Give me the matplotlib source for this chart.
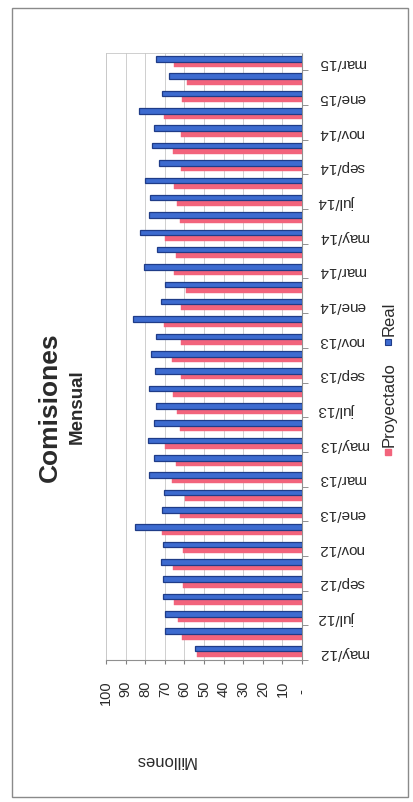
import numpy as np
import matplotlib
matplotlib.use('Agg')
import matplotlib.pyplot as plt
from matplotlib.patches import Rectangle

plt.rcParams['font.family'] = ['Liberation Sans', 'DejaVu Sans']

# ============ datos (millones) ============
meses = ['may/12', 'jun/12', 'jul/12', 'ago/12', 'sep/12', 'oct/12', 'nov/12', 'dic/12',
         'ene/13', 'feb/13', 'mar/13', 'abr/13', 'may/13', 'jun/13', 'jul/13', 'ago/13',
         'sep/13', 'oct/13', 'nov/13', 'dic/13', 'ene/14', 'feb/14', 'mar/14', 'abr/14',
         'may/14', 'jun/14', 'jul/14', 'ago/14', 'sep/14', 'oct/14', 'nov/14', 'dic/14',
         'ene/15', 'feb/15', 'mar/15']
proyectado = [53.6, 61.4, 63.1, 65.1, 60.9, 65.6, 60.9, 71.5, 62.1, 59.5, 66.3, 64.1,
              69.7, 62.1, 63.8, 65.8, 61.7, 66.3, 61.5, 70.6, 61.5, 59.0, 65.5, 64.1,
              69.7, 62.1, 63.8, 65.5, 61.6, 66.0, 61.6, 70.6, 61.2, 58.7, 65.1]
real = [54.4, 69.7, 69.7, 70.7, 71.1, 71.9, 70.7, 85.1, 71.5, 70.3, 78.3, 75.4,
        78.6, 75.7, 74.4, 78.3, 74.9, 77.1, 74.4, 86.3, 72.0, 70.1, 80.4, 74.0,
        82.5, 78.2, 77.4, 79.9, 73.1, 76.5, 75.3, 83.3, 71.4, 68.0, 74.5]
valor_ticks = list(range(0, 101, 10))
valor_labels = ['-  '] + [str(v) for v in valor_ticks[1:]]
# ==========================================

W, H = 413, 802
ROJO = '#F2647C'
AZUL = '#3D6BD0'
AZUL_BORDE = '#1F3C88'
TEXTO = '#2a2a2a'

fig = plt.figure(figsize=(W / 100, H / 100), dpi=100)
fig.patch.set_facecolor('white')

# marco de la hoja escaneada
fig.add_artist(Rectangle((12 / W, 1 - 797 / H), (408 - 12) / W, (797 - 8) / H,
                         transform=fig.transFigure, fill=False,
                         edgecolor='#8a8a8a', linewidth=1.0))

ax = fig.add_axes([106 / W, 1 - 660 / H, (302 - 106) / W, (660 - 53) / H])

y = np.arange(len(meses))
h = 0.32
ax.barh(y - h / 2, proyectado, height=h, color=ROJO, edgecolor=ROJO, linewidth=0.3, zorder=3)
ax.barh(y + h / 2, real, height=h, color=AZUL, edgecolor=AZUL_BORDE, linewidth=0.9, zorder=3)

ax.set_xlim(100, 0)
ax.set_ylim(-0.5, len(meses) - 0.5)

ax.set_xticks(valor_ticks)
ax.set_xticklabels(valor_labels)
ax.tick_params(axis='x', labelrotation=90, labelsize=10.5, length=3, pad=12,
               color='#808080', labelcolor=TEXTO)
ax.grid(axis='x', color='#c8c8c8', linewidth=0.6, zorder=0)

ax.yaxis.tick_right()
ax.set_yticks(y[::2])
ax.set_yticklabels(meses[::2])
ax.set_yticks(np.arange(-0.5, len(meses), 2), minor=True)
ax.tick_params(axis='y', which='major', length=0, pad=12, labelrotation=180,
               labelsize=11, labelcolor=TEXTO)
ax.tick_params(axis='y', which='minor', length=4, color='#808080')

for lado in ['left', 'top']:
    ax.spines[lado].set_color('#c8c8c8')
    ax.spines[lado].set_linewidth(0.6)
for lado in ['right', 'bottom']:
    ax.spines[lado].set_color('#909090')
    ax.spines[lado].set_linewidth(0.8)

# títulos (girados como en la hoja)
fig.text(50 / W, 1 - 407 / H, 'Comisiones', rotation=90, ha='center', va='center',
         fontsize=19, fontweight='bold', color=TEXTO)
fig.text(77 / W, 1 - 407 / H, 'Mensual', rotation=90, ha='center', va='center',
         fontsize=13.5, fontweight='bold', color=TEXTO)
fig.text(165 / W, 1 - 760 / H, 'Millones', rotation=180, ha='center', va='center',
         fontsize=12, color=TEXTO)

# leyenda
s = 6
fig.add_artist(Rectangle(((388 - s / 2) / W, 1 - (452 + s / 2) / H), s / W, s / H,
                         transform=fig.transFigure, facecolor=ROJO, edgecolor=ROJO))
fig.add_artist(Rectangle(((388 - s / 2) / W, 1 - (342 + s / 2) / H), s / W, s / H,
                         transform=fig.transFigure, facecolor=AZUL, edgecolor=AZUL_BORDE,
                         linewidth=0.8))
fig.text(389 / W, 1 - 447 / H, 'Proyectado', rotation=90, ha='center', va='bottom',
         fontsize=12, color=TEXTO)
fig.text(389 / W, 1 - 336 / H, 'Real', rotation=90, ha='center', va='bottom',
         fontsize=12, color=TEXTO)

fig.savefig('out.png', dpi=100)
